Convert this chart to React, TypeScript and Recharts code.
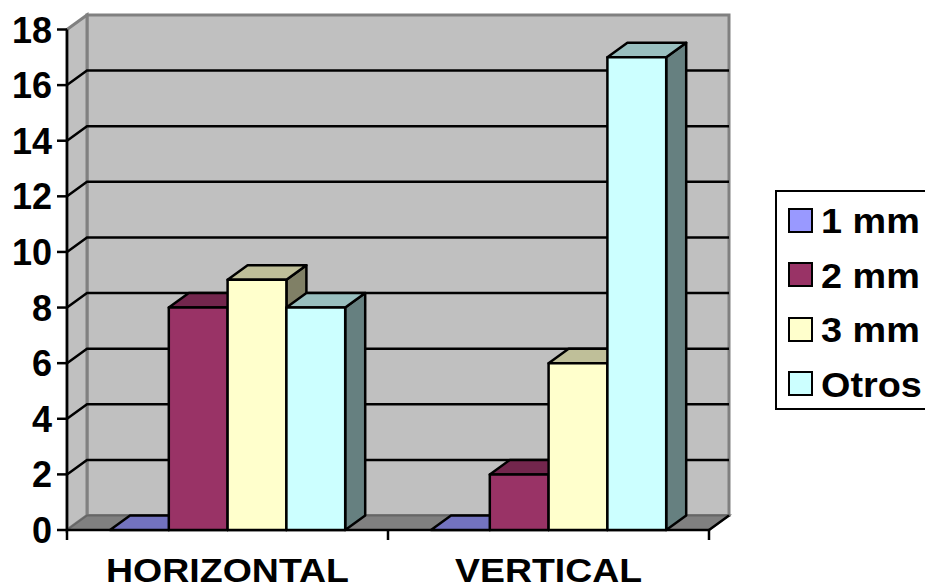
import React from "react";
import { BarChart, Bar, XAxis, YAxis, Legend, ReferenceArea } from "recharts";

const categories = ["HORIZONTAL", "VERTICAL"];
const seriesNames = ["1 mm", "2 mm", "3 mm", "Otros"];
const oneMm = [0, 0];
const twoMm = [8, 2];
const threeMm = [9, 6];
const otros = [8, 17];
const yTicks = [0, 2, 4, 6, 8, 10, 12, 14, 16, 18];
const yMax = 18;

const rows = categories.map((name, i) => ({
  name,
  "1 mm": oneMm[i],
  "2 mm": twoMm[i],
  "3 mm": threeMm[i],
  Otros: otros[i],
}));

const faces: Record<string, { front: string; top: string; side: string }> = {
  "1 mm": { front: "#9999FF", top: "#7373BF", side: "#5C5C99" },
  "2 mm": { front: "#993366", top: "#73264D", side: "#4D1A33" },
  "3 mm": { front: "#FFFFCC", top: "#BFBF99", side: "#808066" },
  Otros: { front: "#CCFFFF", top: "#99BFBF", side: "#668080" },
};

const DX = 20;
const DY = 14.5;
const FONT = "'Liberation Sans', Arial, sans-serif";

const pts = (...p: number[][]) => p.map((q) => q.join(",")).join(" ");

// Extruded bar: front rectangle plus a top and a right face pushed back by the depth offset.
const Box3D = (props: any) => {
  const { x, y, width: w, height: h, dataKey } = props;
  const c = faces[dataKey];
  const s = { stroke: "#000", strokeWidth: 2.5, strokeLinejoin: "round" as const };
  return (
    <g>
      <polygon points={pts([x + w, y], [x + w + DX, y - DY], [x + w + DX, y + h - DY], [x + w, y + h])} fill={c.side} {...s} />
      <polygon points={pts([x, y], [x + DX, y - DY], [x + w + DX, y - DY], [x + w, y])} fill={c.top} {...s} />
      {h > 0 && <rect x={x} y={y} width={w} height={h} fill={c.front} {...s} />}
    </g>
  );
};

// Back wall, side wall and floor of the chart box, with grid lines and category tick marks.
const Room = (props: any) => {
  const { x, y, width: w, height: h } = props;
  const b = y + h;
  const wall = { fill: "#C0C0C0", stroke: "#808080", strokeWidth: 3 };
  const n = categories.length;
  return (
    <g>
      <polygon points={pts([x + DX, y - DY], [x + w + DX, y - DY], [x + w + DX, b - DY], [x + DX, b - DY])} {...wall} />
      <polygon points={pts([x, y], [x + DX, y - DY], [x + DX, b - DY], [x, b])} {...wall} />
      {yTicks.slice(1, -1).map((v) => {
        const gy = b - (h * v) / yMax;
        return (
          <polyline
            key={v}
            points={pts([x, gy], [x + DX, gy - DY], [x + w + DX, gy - DY])}
            fill="none"
            stroke="#000"
            strokeWidth={2.5}
          />
        );
      })}
      <polygon points={pts([x, b], [x + DX, b - DY], [x + w + DX, b - DY], [x + w, b])} fill="#808080" stroke="#666" strokeWidth={2} />
      <line x1={x + w} y1={b} x2={x + w + DX} y2={b - DY} stroke="#000" strokeWidth={2.5} />
      <line x1={x} y1={b} x2={x + w} y2={b} stroke="#000" strokeWidth={2.5} />
      {Array.from({ length: n + 1 }, (_, i) => (
        <line key={i} x1={x + (w * i) / n} y1={b} x2={x + (w * i) / n} y2={b + 10} stroke="#000" strokeWidth={2.5} />
      ))}
    </g>
  );
};

const YTick = ({ x, y, payload }: any) => (
  <text x={x} y={y + 13} textAnchor="end" fontFamily={FONT} fontWeight="bold" fontSize={36} fill="#000">
    {payload.value}
  </text>
);

// Category labels are set slightly wide: the condensed height with the full run length.
const XTick = ({ x, payload }: any) => (
  <text
    x={x}
    y={581.5}
    textAnchor="middle"
    fontFamily={FONT}
    fontWeight="bold"
    fontSize={34}
    fill="#000"
    textLength={String(payload.value).length === 10 ? 243 : 187}
    lengthAdjust="spacingAndGlyphs"
  >
    {payload.value}
  </text>
);

const LegendBox = () => (
  <div
    style={{
      boxSizing: "border-box",
      width: 160,
      height: 220,
      border: "2.5px solid #000",
      background: "#fff",
      fontFamily: FONT,
      fontWeight: "bold",
      fontSize: 35,
      color: "#000",
      paddingTop: 0.75,
    }}
  >
    {seriesNames.map((name) => (
      <div key={name} style={{ display: "flex", alignItems: "center", height: 54.5, whiteSpace: "nowrap" }}>
        <span
          style={{
            boxSizing: "border-box",
            width: 25,
            height: 25,
            marginLeft: 11,
            marginRight: 8,
            border: "2px solid #000",
            background: faces[name].front,
            flex: "none",
          }}
        />
        <span style={{ display: "inline-block", position: "relative", top: 1, transform: "scaleX(1.08)", transformOrigin: "left center" }}>
          {name}
        </span>
      </div>
    ))}
  </div>
);

export default function App() {
  return (
    <div style={{ position: "absolute", left: 0, top: 0, width: 925, height: 588, overflow: "hidden" }}>
      <BarChart
        width={925}
        height={588}
        data={rows}
        barGap={0}
        barSize={58.8}
        margin={{ top: 29.5, right: 216, bottom: 0, left: 0 }}
      >
        <XAxis dataKey="name" height={58} axisLine={false} tickLine={false} tick={<XTick />} interval={0} />
        <YAxis
          width={67}
          domain={[0, yMax]}
          ticks={yTicks}
          interval={0}
          tickSize={10}
          tickMargin={5}
          axisLine={{ stroke: "#000", strokeWidth: 2.5 }}
          tickLine={{ stroke: "#000", strokeWidth: 2.5 }}
          tick={<YTick />}
        />
        <ReferenceArea y1={0} y2={yMax} shape={<Room />} />
        {seriesNames.map((name) => (
          <Bar key={name} dataKey={name} fill={faces[name].front} isAnimationActive={false} shape={<Box3D dataKey={name} />} />
        ))}
        <Legend
          layout="vertical"
          align="center"
          verticalAlign="middle"
          wrapperStyle={{ position: "absolute", left: 775, top: 190, width: 160, height: 220 }}
          content={<LegendBox />}
        />
      </BarChart>
    </div>
  );
}
